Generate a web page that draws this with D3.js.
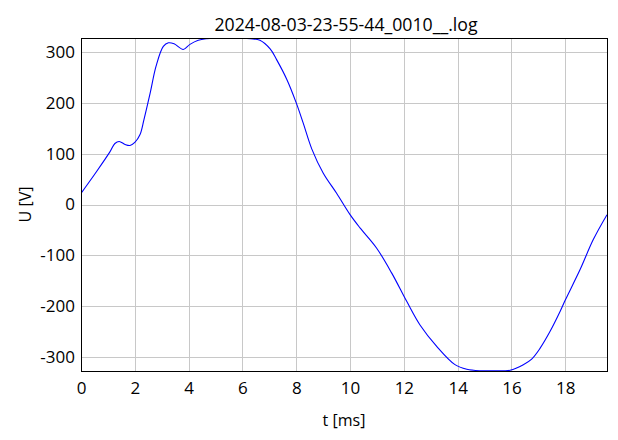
<!DOCTYPE html>
<html>
<head>
<meta charset="utf-8">
<script src="https://cdn.jsdelivr.net/npm/d3@7"></script>
<style>
  html, body { margin: 0; padding: 0; background: #fff; }
  text { font-family: "Open Sans", "Noto Sans", sans-serif; fill: #000; }
</style>
</head>
<body>
<svg id="chart" width="618" height="440"></svg>
<script>
const title = "2024-08-03-23-55-44_0010__.log";
const xLabel = "t [ms]";
const yLabel = "U [V]";
const xTicks = [0, 2, 4, 6, 8, 10, 12, 14, 16, 18];
const yTicks = [-300, -200, -100, 0, 100, 200, 300];
const xDomain = [0, 19.55];
const yDomain = [-327.5, 327.5];

const tValues = [0, 0.58, 1.08, 1.26, 1.42, 1.64, 1.82, 2.0, 2.19, 2.34, 2.57, 2.79, 3.06, 3.25, 3.46, 3.8, 4.05, 4.36, 4.67, 5.0, 5.5, 6.0, 6.3, 6.65, 7.03, 7.27, 7.65, 8.0, 8.26, 8.58, 9.0, 9.5, 10.0, 10.37, 10.99, 11.55, 12.11, 12.6, 13.22, 13.9, 14.34, 14.83, 15.3, 15.7, 15.95, 16.44, 16.75, 17.06, 17.43, 17.81, 18.0, 18.55, 19.04, 19.55];
const uValues = [22, 65, 104, 120, 124, 118, 116, 122, 137, 167, 219, 272, 311, 318, 316, 305, 315, 323, 326, 327, 327, 327, 326, 323, 306, 285, 246, 200, 160, 109, 62, 22, -20, -46, -86, -135, -191, -237, -279, -315, -324, -327, -327, -327, -326, -315, -304, -283, -250, -210, -188, -128, -69, -20];

const W = 618, H = 440;
const m = {left: 81, right: 11, top: 38, bottom: 69};
const iw = W - m.left - m.right, ih = H - m.top - m.bottom;
const FONT = '"Open Sans", "Noto Sans", sans-serif';

const svg = d3.select("#chart");
const g = svg.append("g").attr("transform", `translate(${m.left},${m.top})`);

const x = d3.scaleLinear().domain(xDomain).range([0, iw]);
const y = d3.scaleLinear().domain(yDomain).range([ih, 0]);

// grid
g.append("g").selectAll("line").data(xTicks).join("line")
  .attr("x1", d => Math.round(x(d)) + 0.5).attr("x2", d => Math.round(x(d)) + 0.5)
  .attr("y1", 0).attr("y2", ih)
  .attr("stroke", "#c8c8c8").attr("stroke-width", 1);
g.append("g").selectAll("line").data(yTicks).join("line")
  .attr("y1", d => Math.round(y(d)) + 0.5).attr("y2", d => Math.round(y(d)) + 0.5)
  .attr("x1", 0).attr("x2", iw)
  .attr("stroke", "#c8c8c8").attr("stroke-width", 1);

// axes (labels only)
const xAxis = g.append("g").attr("transform", `translate(0,${ih})`)
  .call(d3.axisBottom(x).tickValues(xTicks).tickSize(0).tickPadding(11).tickFormat(d3.format("d")));
xAxis.select(".domain").remove();
xAxis.selectAll("text").attr("font-size", 17).style("font-family", FONT);

const yAxis = g.append("g")
  .call(d3.axisLeft(y).tickValues(yTicks).tickSize(0).tickPadding(6).tickFormat(d => d3.format("d")(d).replace("−", "-")));
yAxis.select(".domain").remove();
yAxis.selectAll("text").attr("font-size", 17).style("font-family", FONT);

// data line
const data = tValues.map((t, i) => ({t, u: uValues[i]}));
g.append("clipPath").attr("id", "clip").append("rect").attr("width", iw).attr("height", ih);
g.append("path").datum(data)
  .attr("clip-path", "url(#clip)")
  .attr("fill", "none").attr("stroke", "#0000ff").attr("stroke-width", 1.1)
  .attr("d", d3.line().x(d => x(d.t)).y(d => y(d.u)).curve(d3.curveCatmullRom.alpha(0.5)));

// border
g.append("rect").attr("x", 0.5).attr("y", 0.5).attr("width", iw).attr("height", ih)
  .attr("fill", "none").attr("stroke", "#000").attr("stroke-width", 1);

// title and labels
svg.append("text").attr("x", m.left + iw / 2 + 2).attr("y", 31)
  .attr("text-anchor", "middle").attr("font-size", 17.7).text(title);
svg.append("text").attr("x", m.left + iw / 2).attr("y", 426)
  .attr("text-anchor", "middle").attr("font-size", 16).text(xLabel);
svg.append("text").attr("transform", `translate(31,${m.top + ih / 2}) rotate(-90)`)
  .attr("text-anchor", "middle").attr("font-size", 16).text(yLabel);
</script>
</body>
</html>
